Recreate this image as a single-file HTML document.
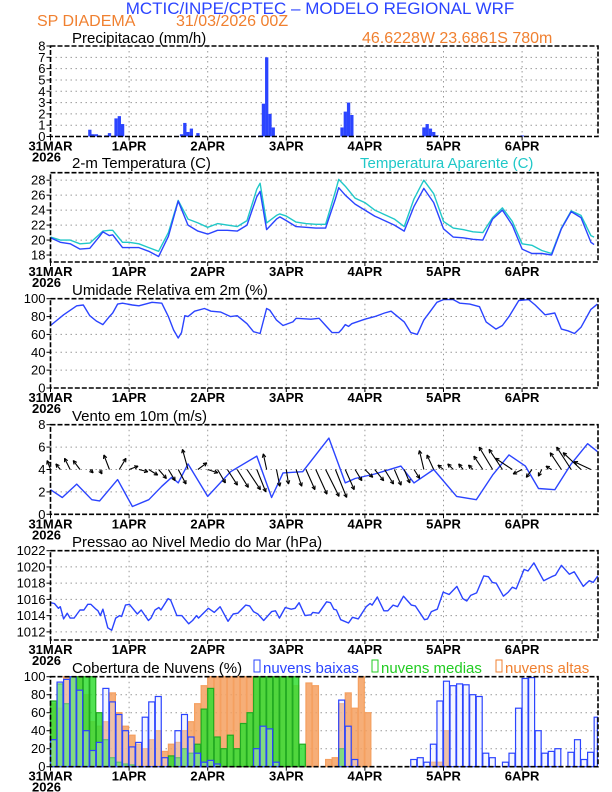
<!DOCTYPE html>
<html><head><meta charset="utf-8">
<style>
html,body{margin:0;padding:0;background:#fff;}
svg{display:block;font-family:"Liberation Sans Narrow","Liberation Sans",sans-serif;}
</style></head>
<body>
<svg id="c" width="612" height="792" viewBox="0 0 612 792">
<text x="320" y="14" font-size="17" fill="#2b44ff" text-anchor="middle">MCTIC/INPE/CPTEC – MODELO REGIONAL WRF</text>
<text x="37" y="26" font-size="16" fill="#f08030">SP DIADEMA</text>
<text x="176" y="26" font-size="16" fill="#f08030">31/03/2026 00Z</text>
<text x="362" y="43" font-size="16" fill="#f08030">46.6228W 23.6861S 780m</text>
<text x="72" y="43" font-size="15" fill="#000">Precipitacao (mm/h)</text>
<text x="72" y="168" font-size="15" fill="#000">2-m Temperatura (C)</text>
<text x="360" y="168" font-size="15" fill="#20c8c8">Temperatura Aparente (C)</text>
<text x="72" y="295" font-size="15" fill="#000">Umidade Relativa em 2m (%)</text>
<text x="72" y="421" font-size="15" fill="#000">Vento em 10m (m/s)</text>
<text x="72" y="547" font-size="15" fill="#000">Pressao ao Nivel Medio do Mar (hPa)</text>
<text x="72" y="673" font-size="15" fill="#000">Cobertura de Nuvens (%)</text>
<rect x="254" y="660" width="6" height="12" fill="none" stroke="#2b44ff"/>
<text x="263" y="673" font-size="15" fill="#2b44ff">nuvens baixas</text>
<rect x="372" y="660" width="6" height="12" fill="none" stroke="#22cc22"/>
<text x="381" y="673" font-size="15" fill="#22cc22">nuvens medias</text>
<rect x="496" y="660" width="6" height="12" fill="none" stroke="#f08030"/>
<text x="505" y="673" font-size="15" fill="#f08030">nuvens altas</text>
</svg>
<script>
// ---- data ----
const dayLabels = ["31MAR","1APR","2APR","3APR","4APR","5APR","6APR"];
const precipHours = [12,13,14,15,17,18,20,21,22,40,41,42,43,45,64,65,66,67,68,89,90,91,92,114,115,116,117,118,144];
const precipVals  = [0.6,0.2,0.2,0.1,0.1,0.3,1.6,1.8,1.1,0.2,1.2,0.4,0.7,0.3,0.1,2.9,7.0,2.0,0.8,0.8,2.2,3.0,1.9,0.8,1.1,0.7,0.4,0.1,0.1];
const tempHours = [0,3,6,9,12,15,16,18,19,22,24,27,30,33,36,39,42,45,48,51,54,57,60,63,64,66,69,70,72,75,78,81,84,87,88,90,93,96,99,102,105,108,111,114,117,120,123,126,129,132,135,138,141,144,147,150,153,156,159,162,165,166];
const tempVals  = [20.3,19.7,19.5,18.8,18.9,20.5,21.1,20.6,20.7,19.0,19.0,19.0,18.5,17.8,20.5,25.2,22.0,21.2,20.8,21.3,21.3,21.2,22.0,25.8,26.5,21.4,22.8,23.1,22.6,21.8,21.7,21.6,21.6,25.5,27.0,26.0,24.8,24.0,23.2,22.6,22.0,21.2,24.5,26.9,25.0,21.5,20.4,20.3,20.1,20.0,22.8,24.0,22.0,18.8,18.2,18.2,18.0,21.5,23.8,23.0,19.7,19.4];
const appVals   = [20.4,20.0,20.0,19.5,19.6,20.8,21.2,21.3,21.3,19.7,19.7,19.5,19.0,18.5,21.0,25.3,22.8,22.3,21.7,22.2,22.0,21.8,22.6,26.8,27.6,22.3,23.3,23.5,23.2,22.4,22.2,22.1,22.1,26.5,28.1,27.2,25.6,25.0,24.0,23.4,22.8,21.8,25.5,28.0,26.2,22.5,21.6,21.4,21.1,21.0,23.0,24.3,22.5,19.5,19.3,18.6,18.2,21.6,23.9,23.3,20.6,20.4];
const rhHours = [0,4,8,10,12,14,16,18,19,20.5,22,25,27,31,34,36,37.6,39,40,41,42,44,47,49,52,55,57,60,62,64,66,67,69,71,74,75,79.5,82,84,86,88,89,90,91,92,96,99,102,104,105,108,110,112,114,116,118,120,123,125,128,131,133,136,138,140,143,146,148,151,154,156,158,160,162,165,167];
const rhVals  = [70,82,92,93,81,75,71,80,84,94,95,93,92,96,95,80,65,56,62,81,80,86,89,86,85,80,81,72,63,61,89,87,76,70,74,78,77,78,70,62,62,66,71,69,72,77,80,84,86,83,74,62,60,76,86,96,99,99,95,94,91,74,66,70,80,98,99,93,82,84,66,64,61,68,88,94];
const windHours = [0,3.6,8,12.6,15,20.5,25,30,34,37,39,42,48,55,63,67.5,71,77,85,90,93,99,107,111,117,124,130,135,140,145,149,154,159,164,167];
const windSpeed = [2.2,1.5,2.7,1.3,1.2,3.1,0.7,1.3,2.5,3.3,2.8,4.5,1.6,3.8,5.2,1.5,3.7,3.8,6.8,2.8,3.2,3.6,4.3,2.8,4.0,1.6,1.3,3.5,5.3,4.3,2.3,2.2,4.5,6.3,5.6];
const vecU = [-0.3,-0.4,-0.5,-0.6,0.3,0.2,-0.5,0.6,0.8,0.8,0.8,0.7,0.6,0.7,-0.5,0.8,0.9,0.7,0.9,1.0,1.2,0.8,-0.3,0.3,0.2,0.5,0.8,1.0,1.2,1.0,0.8,0.6,0.7,0.8,0.8,0.6,0.5,0.5,-0.4,-0.6,-0.5,-0.5,-0.4,-0.4,-0.8,-1.2,-1.2,-1.5,-0.8,-0.5,-0.3,-0.5,-1.0,-1.3,-1.6,-1.5];
const vecV = [0.8,0.5,1.0,0.8,-0.3,-0.4,1.3,1.0,0.3,-0.2,-0.5,-0.8,-1.0,-1.3,1.8,0.6,-0.3,-1.2,-1.4,-1.6,-1.8,-2.0,1.4,-1.5,-1.3,-1.5,-1.8,-2.2,-2.4,-2.5,-1.8,-1.0,-0.7,-1.0,-1.3,-1.4,-1.2,-0.8,1.7,1.3,0.4,0.5,0.5,0.4,1.2,2.0,1.8,1.0,-0.4,-0.7,-0.6,0.3,1.5,2.0,1.5,0.7];
const presHours = [0,1.2,2.4,3,4,5.1,6,7.2,9,10.2,11.4,12.3,13.9,14.5,15.2,16,17.5,18.7,19.9,21.1,21.7,22.9,24.1,26.5,27.7,29.9,30.7,31.9,33.1,33.7,35.9,36.7,38.6,40.1,42.2,43.4,44.6,45.2,48.2,50,51.8,54.2,55.8,57.2,59.6,60.8,62,63.3,65.1,67.5,68.7,69.9,71.7,73.5,74.7,75.9,77.7,79.5,80.1,81.9,84.3,85.5,86.5,87.3,88.6,91,92.2,94,96.4,97.6,98.2,99.8,101.8,103,104.6,106,107.8,110.2,111.4,114.2,115.1,116.3,118.1,119.9,121.7,124.1,125.9,127.1,128.3,130.1,132.3,133.7,134.9,136.1,138.3,139.8,141,142.2,144.6,145.8,147.6,150.6,153,154.2,156,158.4,159.9,162.7,164.5,165.7,167.1];
const presVals  = [1015.6,1015.5,1014.9,1015.1,1013.6,1014.3,1013.7,1013.7,1014.7,1014.7,1015.4,1015.4,1014.8,1014.6,1014.0,1014.8,1012.5,1012.2,1013.7,1014.0,1013.9,1015.3,1015.4,1014.2,1014.7,1013.4,1013.7,1014.7,1015.0,1014.7,1016.1,1015.9,1014.0,1014.0,1013.0,1013.4,1014.0,1013.7,1014.9,1014.4,1015.1,1013.3,1014.2,1014.3,1015.3,1015.2,1014.5,1014.2,1013.4,1014.5,1014.6,1013.7,1015.0,1014.8,1014.9,1015.6,1014.0,1014.1,1014.4,1014.3,1015.7,1015.6,1014.8,1014.7,1013.5,1013.1,1013.8,1013.6,1015.1,1015.5,1015.3,1016.3,1014.6,1014.6,1015.3,1015.1,1016.4,1015.3,1015.2,1013.5,1013.6,1014.5,1014.8,1016.9,1016.6,1017.6,1016.1,1015.8,1016.5,1016.8,1018.9,1018.8,1018.1,1018.0,1016.4,1016.9,1017.5,1017.3,1019.7,1019.5,1020.5,1018.3,1018.8,1019.0,1020.2,1019.1,1019.4,1017.6,1018.3,1018.1,1018.9];
// cloud cover, 2-hourly from 0h
const cloudLow  = [30,94,97,100,85,40,18,27,87,72,58,40,22,27,55,72,78,10,0,40,58,33,15,5,7,3,0,0,0,0,0,20,45,42,5,0,0,0,0,0,0,0,0,0,74,45,8,0,0,0,0,0,0,0,0,8,10,5,25,73,95,90,92,91,80,78,15,10,0,5,15,65,98,99,40,15,17,20,0,16,30,8,16,55];
const cloudMid  = [73,92,70,100,100,100,100,60,30,10,5,3,2,0,0,0,0,0,12,10,20,15,25,64,87,33,20,35,20,48,60,100,100,100,100,100,100,100,25,0,0,0,0,0,20,0,0,0,0,0,0,0,0,0,0,0,0,0,0,0,0,0,0,0,0,0,0,0,0,0,0,0,0,0,0,0,0,0,0,0,0,0,0,0];
const cloudHigh = [70,65,100,100,100,80,50,45,50,82,60,45,35,25,20,30,40,17,25,27,40,50,70,90,100,100,100,100,100,100,100,100,100,100,100,100,100,90,0,93,90,0,8,10,70,82,65,100,60,0,0,0,0,0,0,0,0,0,5,5,40,0,0,0,0,0,0,0,0,0,0,0,0,0,0,0,0,0,0,0,0,0,0,0];

const NS="http://www.w3.org/2000/svg";
const svg=document.getElementById('c');
const X0=50.5, PXH=78.6/24, XR=598;
function X(t){return X0+t*PXH;}
function mk(tag,attrs,parent){const e=document.createElementNS(NS,tag);for(const k in attrs)e.setAttribute(k,attrs[k]);(parent||svg).appendChild(e);return e;}
const panels={
 precip:{top:46,bot:136.5,min:0,max:8,ticks:[0,1,2,3,4,5,6,7,8]},
 temp:{top:172.7,bot:262,min:17.07,max:29,ticks:[18,20,22,24,26,28]},
 rh:{top:298.7,bot:388,min:0,max:100,ticks:[0,20,40,60,80,100]},
 wind:{top:424.7,bot:514.3,min:0,max:8,ticks:[0,2,4,6,8]},
 pres:{top:550.7,bot:640,min:1011.0,max:1022,ticks:[1012,1014,1016,1018,1020,1022]},
 cloud:{top:676.7,bot:766.7,min:0,max:100,ticks:[0,20,40,60,80,100]}
};
function Y(p,v){return p.bot-(v-p.min)/(p.max-p.min)*(p.bot-p.top);}
function axes(name,p){
 const g=mk('g',{});
 
 
 for(let d=1;d<7;d++){const l=mk('line',{x1:X(d*24),x2:X(d*24),y1:p.top,y2:p.bot,stroke:'#999','stroke-dasharray':'1.5,3.5','stroke-width':1},g);
  }
 p.ticks.forEach(v=>{const y=Y(p,v);
  if(y>p.top+1&&y<p.bot-1){const l=mk('line',{x1:X0,x2:XR,y1:y,y2:y,stroke:'#999','stroke-dasharray':'1.5,3.5','stroke-width':1},g);
   }
  mk('line',{x1:X0-4,x2:X0,y1:y,y2:y,stroke:'#000'},g);
  const t=mk('text',{x:X0-5,y:y+4.5,'font-size':13,'text-anchor':'end',fill:'#000'},g);t.textContent=v;
  
 });
 dayLabels.forEach((lab,i)=>{const x=X(i*24);
  mk('line',{x1:x,x2:x,y1:p.bot,y2:p.bot+4,stroke:'#000'},g);
  const t=mk('text',{x:x,y:p.bot+14,'font-size':13,'text-anchor':'middle',fill:'#000','font-weight':'bold'},g);t.textContent=lab;
  
 });
 const yr=mk('text',{x:X0-4,y:p.bot+25,'font-size':13,'text-anchor':'middle','font-weight':'bold'},g);yr.textContent='2026';
 
 return g;
}
function frame(name,p){
 const r=mk('rect',{x:X0,y:p.top,width:XR-X0,height:p.bot-p.top,fill:'none',stroke:'#000','stroke-width':1.6,'stroke-dasharray':'5,2'});
 
}
function line(p,hs,vs,color,name){
 let d='';hs.forEach((h,i)=>{d+=(i?'L':'M')+X(h).toFixed(1)+','+Y(p,vs[i]).toFixed(1);});
 const e=mk('path',{d:d,fill:'none',stroke:color,'stroke-width':1.4,'stroke-linejoin':'round'});
 
}
// precip
let p=panels.precip; axes('precip',p);
precipHours.forEach((h,i)=>{const y=Y(p,precipVals[i]);
 const b=mk('rect',{x:X(h)-1.6,y:y,width:3.3,height:p.bot-y,fill:'#2b44ff'});
 });
frame('precip',p);
// temp
p=panels.temp; axes('temp',p);
line(p,tempHours,appVals,'#20c8c8','apparent-temp-line');
line(p,tempHours,tempVals,'#2b44ff','temp-line');
frame('temp',p);
// rh
p=panels.rh; axes('rh',p); line(p,rhHours,rhVals,'#2b44ff','rh-line'); frame('rh',p);
// wind
p=panels.wind; axes('wind',p);
line(p,windHours,windSpeed,'#2b44ff','wind-speed-line');
const unit=(p.bot-p.top)/8;
vecU.forEach((u,i)=>{const t=i*3;const x1=X(t),y1=Y(p,4);const x2=x1+u*unit,y2=y1-vecV[i]*unit;
 const g=mk('g',{stroke:'#000','stroke-width':1.1});
 
 mk('line',{x1:x1,y1:y1,x2:x2,y2:y2},g);
 const a=Math.atan2(y2-y1,x2-x1),L=4;
 mk('line',{x1:x2,y1:y2,x2:x2-L*Math.cos(a-0.45),y2:y2-L*Math.sin(a-0.45)},g);
 mk('line',{x1:x2,y1:y2,x2:x2-L*Math.cos(a+0.45),y2:y2-L*Math.sin(a+0.45)},g);
});
frame('wind',p);
// pressure
p=panels.pres; axes('pres',p); line(p,presHours,presVals,'#2b44ff','pressure-line'); frame('pres',p);
// clouds
p=panels.cloud; axes('cloud',p);
const bw=2*PXH;
function bars(arr,fill,stroke,name,op){arr.forEach((v,i)=>{if(v<=0)return;const x=X(i*2);const y=Y(p,v);
 const w=Math.min(bw,XR-x);
 const b=mk('rect',{x:x,y:y,width:w-0.6,height:p.bot-y,fill:fill,stroke:stroke,'stroke-width':1.2,'fill-opacity':op});
 });}
bars(cloudHigh,'#f5a060','#f5a060','cloud-high-bar',0.85);
bars(cloudMid,'#33dd33','#22aa22','cloud-mid-bar',0.85);
bars(cloudLow,'#dfe4ff','#2b44ff','cloud-low-bar',0.35);
frame('cloud',p);
</script>
</body></html>
